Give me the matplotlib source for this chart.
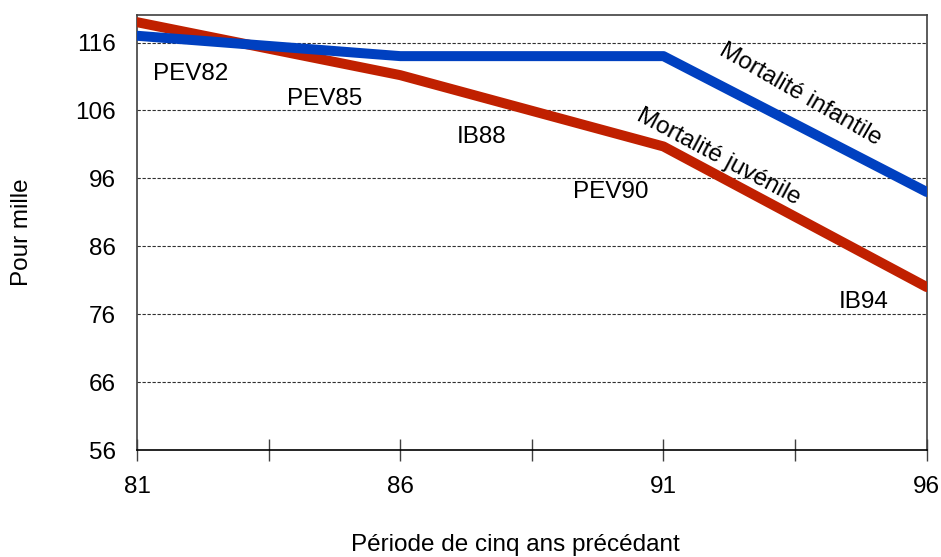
import numpy as np
import matplotlib.pyplot as plt

plt.rcParams['font.family'] = ['Liberation Sans', 'DejaVu Sans']

periods = [81, 86, 91, 96]
infantile = [117.0, 114.0, 114.0, 94.0]
juvenile = [119.0, 111.2, 100.7, 80.0]

survey_names = ['PEV82', 'PEV85', 'IB88', 'PEV90', 'IB94']
survey_x = [81.3, 83.85, 87.07, 89.29, 94.32]
survey_y = [111.3, 107.7, 102.1, 94.0, 77.8]

fs = 17.5

fig = plt.figure(figsize=(9.41, 5.57), dpi=100)
ax = fig.add_axes([0.1456, 0.192, 0.8392, 0.7816])

ax.plot(periods, juvenile, color='#C02000', lw=7.2, solid_capstyle='round',
        solid_joinstyle='round', zorder=3)
ax.plot(periods, infantile, color='#0040C0', lw=7.2, solid_capstyle='round',
        solid_joinstyle='round', zorder=4)

ax.set_xlim(81, 96)
ax.set_ylim(56, 120.1)

ax.set_xticks(np.arange(81, 96.1, 2.5))
ax.set_xticklabels(['81', '', '86', '', '91', '', '96'])
ax.set_yticks(np.arange(56, 117, 10))
ax.tick_params(axis='x', direction='inout', length=16, width=1, color='#404040',
               labelsize=fs, pad=11)
ax.tick_params(axis='y', length=0, labelsize=fs, pad=15)

for y in np.arange(66, 117, 10):
    ax.axhline(y, color='#303030', lw=0.8, ls=(0, (3, 1.5)), zorder=1)

for s in ax.spines.values():
    s.set_color('#404040')
    s.set_linewidth(1.2)
ax.spines['bottom'].set_color('black')

for name, x, y in zip(survey_names, survey_x, survey_y):
    ax.text(x, y, name, fontsize=fs, ha='left', va='center', zorder=5)

ax.text(93.6, 108.3, 'Mortalité infantile', fontsize=fs, rotation=-30,
        ha='center', va='center', rotation_mode='anchor', zorder=5)
ax.text(92.05, 99.2, 'Mortalité juvénile', fontsize=fs, rotation=-28,
        ha='center', va='center', rotation_mode='anchor', zorder=5)

fig.text(22 / 941, 1 - 232 / 557, 'Pour mille', rotation=90, fontsize=fs,
         ha='center', va='center')
fig.text(515 / 941, 1 - 545 / 557, 'Période de cinq ans précédant', fontsize=fs,
         ha='center', va='center')

fig.savefig('out.png', dpi=100)
